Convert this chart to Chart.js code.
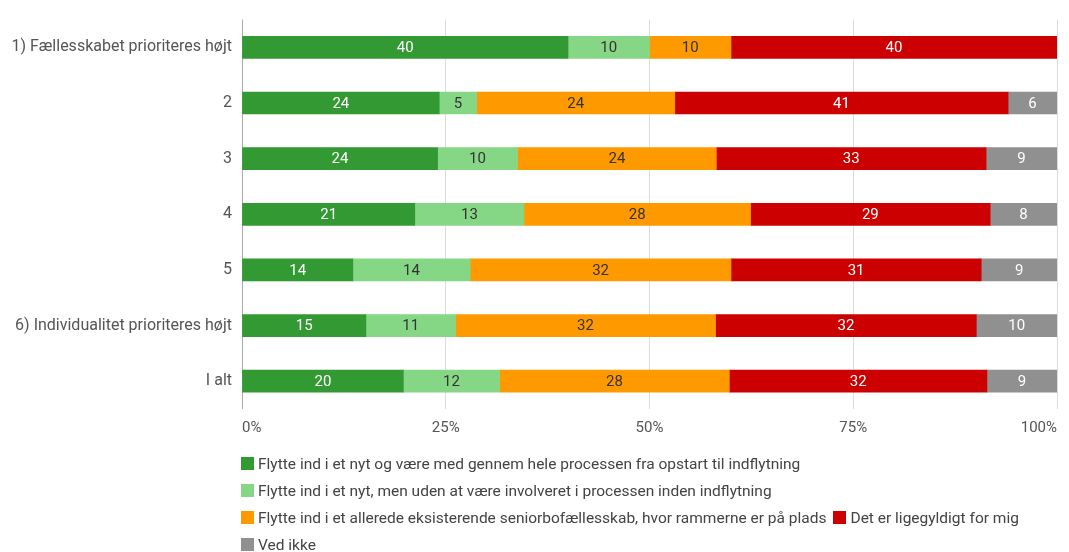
<!DOCTYPE html>
<html>
<head>
<meta charset="utf-8">
<script src="https://cdn.jsdelivr.net/npm/chart.js@4/dist/chart.umd.min.js"></script>
<style>
  body { margin: 0; background: #fff; font-family: Roboto, "Noto Sans", sans-serif; }
  #wrap { position: relative; width: 1069px; height: 552px; }
  #legend { position: absolute; left: 241px; top: 450px; width: 840px; display: flex; flex-wrap: wrap; font-size: 15.5px; color: #444; }
  .item { display: flex; align-items: center; height: 27px; margin-right: 7px; white-space: nowrap; }
  .box { width: 13px; height: 13px; margin-right: 4px; }
</style>
</head>
<body>
<div id="wrap">
  <canvas id="chart" width="1069" height="452" style="width:1069px;height:452px"></canvas>
  <div id="legend"></div>
</div>
<script>
// kategorier (y-akse)
var categories = ['1) Fællesskabet prioriteres højt', '2', '3', '4', '5', '6) Individualitet prioriteres højt', 'I alt'];

// serier (procent)
var serieNavne = [
    'Flytte ind i et nyt og være med gennem hele processen fra opstart til indflytning',
    'Flytte ind i et nyt, men uden at være involveret i processen inden indflytning',
    'Flytte ind i et allerede eksisterende seniorbofællesskab, hvor rammerne er på plads',
    'Det er ligegyldigt for mig',
    'Ved ikke'
];
var heleProcessen = [40, 24.2, 24.0, 21.2, 13.6, 15.2, 19.8];
var udenProces    = [10, 4.6, 9.8, 13.4, 14.4, 11.0, 11.8];
var eksisterende  = [10, 24.3, 24.4, 27.8, 32.0, 31.9, 28.2];
var ligegyldigt   = [40, 40.9, 33.1, 29.4, 30.7, 32.0, 31.6];
var vedIkke       = [0, 6.0, 8.7, 8.2, 9.3, 9.9, 8.6];

// tick labels x-akse
var xTicks = [0, 25, 50, 75, 100];

var farver = ['#339933', '#85d785', '#ff9900', '#cc0000', '#909090'];
var tekstFarver = ['#ffffff', '#333333', '#333333', '#ffffff', '#ffffff'];
var serier = [heleProcessen, udenProces, eksisterende, ligegyldigt, vedIkke];

var datasets = serier.map(function (d, i) {
    return {
        label: serieNavne[i],
        data: d,
        backgroundColor: farver[i],
        borderWidth: 0,
        barThickness: 22
    };
});

// tal midt i hver bar
var barLabels = {
    id: 'barLabels',
    afterDatasetsDraw: function (chart) {
        var ctx = chart.ctx;
        ctx.save();
        ctx.font = '15px Roboto, "Noto Sans", sans-serif';
        ctx.textAlign = 'center';
        ctx.textBaseline = 'middle';
        chart.data.datasets.forEach(function (ds, i) {
            var meta = chart.getDatasetMeta(i);
            meta.data.forEach(function (bar, j) {
                var v = ds.data[j];
                if (!v) return;
                ctx.fillStyle = tekstFarver[i];
                ctx.fillText(Math.round(v), (bar.x + bar.base) / 2, bar.y + 1);
            });
        });
        ctx.restore();
    }
};

var ctx = document.getElementById('chart').getContext('2d');
var chart = new Chart(ctx, {
    type: 'bar',
    data: { labels: categories, datasets: datasets },
    plugins: [barLabels],
    options: {
        indexAxis: 'y',
        responsive: false,
        animation: false,
        layout: { autoPadding: false, padding: { top: 16, right: 12, bottom: 5, left: 0 } },
        plugins: { legend: { display: false }, tooltip: { enabled: false } },
        scales: {
            x: {
                stacked: true,
                min: 0,
                max: 100,
                afterBuildTicks: function (scale) {
                    scale.ticks = xTicks.map(function (v) { return { value: v }; });
                },
                ticks: {
                    callback: function (v) { return v + '%'; },
                    color: '#555',
                    font: { size: 15, family: 'Roboto' },
                    padding: 10,
                    align: 'inner',
                    maxRotation: 0
                },
                grid: {
                    color: function (c) { return c.tick && c.tick.value === 0 ? '#aaaaaa' : '#dddddd'; },
                    drawTicks: false
                },
                border: { display: false }
            },
            y: {
                stacked: true,
                afterFit: function (scale) { scale.width = 242; },
                ticks: {
                    color: '#555',
                    font: { size: 16, family: 'Roboto' },
                    padding: 10
                },
                grid: { display: false, drawTicks: false },
                border: { display: false }
            }
        }
    }
});

// legende under grafen
var legend = document.getElementById('legend');
serieNavne.forEach(function (navn, i) {
    var item = document.createElement('div');
    item.className = 'item';
    item.innerHTML = '<span class="box" style="background:' + farver[i] + '"></span>' + navn;
    legend.appendChild(item);
});
</script>
</body>
</html>
